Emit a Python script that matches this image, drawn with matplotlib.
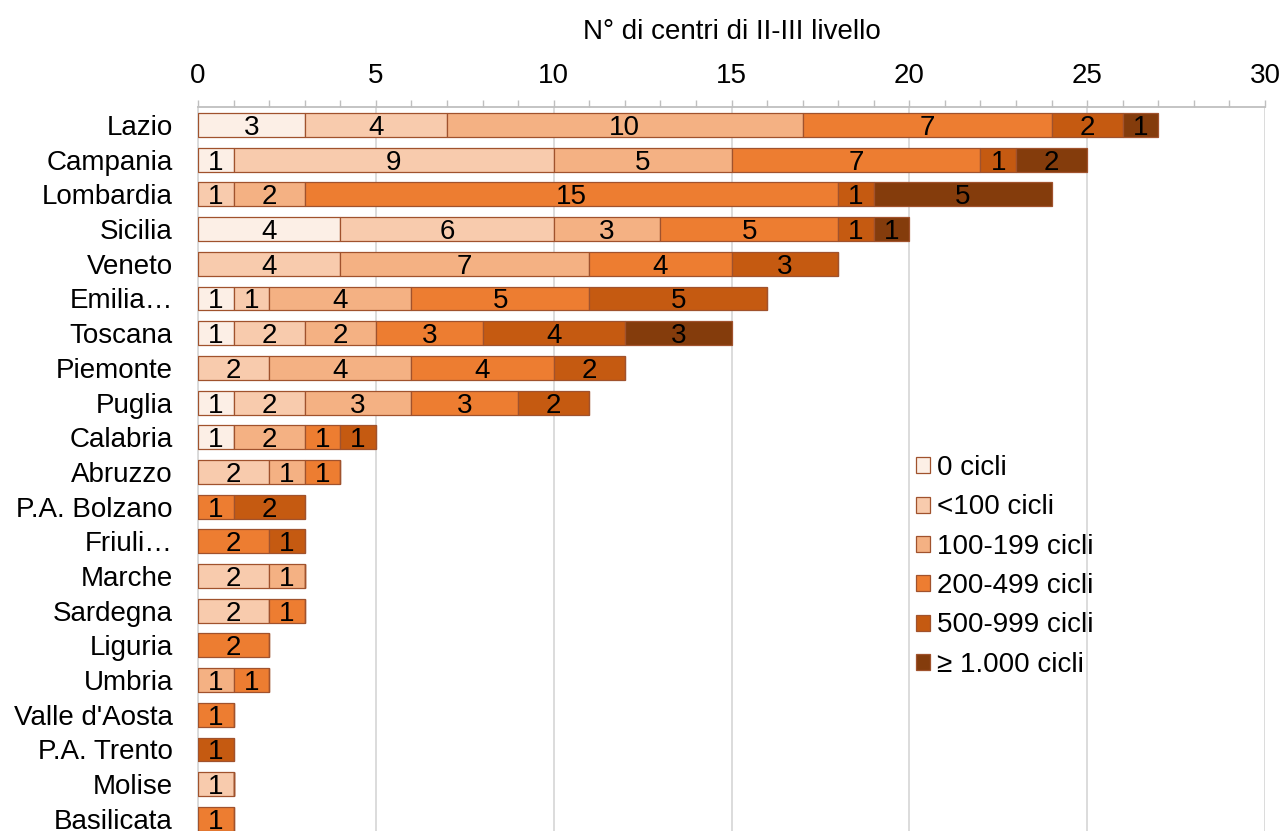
import matplotlib
matplotlib.use("Agg")
import matplotlib.pyplot as plt
import numpy as np
from matplotlib.ticker import MultipleLocator

plt.rcParams['font.family'] = ['Liberation Sans', 'DejaVu Sans']

regions = ["Lazio", "Campania", "Lombardia", "Sicilia", "Veneto", "Emilia\u2026",
           "Toscana", "Piemonte", "Puglia", "Calabria", "Abruzzo", "P.A. Bolzano",
           "Friuli\u2026", "Marche", "Sardegna", "Liguria", "Umbria", "Valle d'Aosta",
           "P.A. Trento", "Molise", "Basilicata"]

series_names = ["0 cicli", "<100 cicli", "100-199 cicli", "200-499 cicli",
                "500-999 cicli", "\u2265 1.000 cicli"]

c0     = [3, 1, 0, 4, 0, 1, 1, 0, 1, 1, 0, 0, 0, 0, 0, 0, 0, 0, 0, 0, 0]
c100   = [4, 9, 1, 6, 4, 1, 2, 2, 2, 0, 2, 0, 0, 2, 2, 0, 0, 0, 0, 1, 0]
c199   = [10, 5, 2, 3, 7, 4, 2, 4, 3, 2, 1, 0, 0, 1, 0, 0, 1, 0, 0, 0, 0]
c499   = [7, 7, 15, 5, 4, 5, 3, 4, 3, 1, 1, 1, 2, 0, 1, 2, 1, 1, 0, 0, 1]
c999   = [2, 1, 1, 1, 3, 5, 4, 2, 2, 1, 0, 2, 1, 0, 0, 0, 0, 0, 1, 0, 0]
c1000  = [1, 2, 5, 1, 0, 0, 3, 0, 0, 0, 0, 0, 0, 0, 0, 0, 0, 0, 0, 0, 0]

colors = ["#FCEFE6", "#F8CBAD", "#F4B183", "#ED7D31", "#C55A11", "#843C0C"]
edge = "#A0522D"
FS = 20

fig = plt.figure(figsize=(12.84, 8.31), dpi=100)
ax = fig.add_axes([198/1284, 0, (1265-198)/1284, (831-107)/831])

y = np.arange(len(regions))
left = np.zeros(len(regions))
for name, vals, col in zip(series_names, [c0, c100, c199, c499, c999, c1000], colors):
    vals = np.array(vals, dtype=float)
    bars = ax.barh(y, vals, left=left, height=0.69, color=col, edgecolor=edge,
                   linewidth=0.9, label=name, zorder=3)
    for b, v in zip(bars, vals):
        if v > 0:
            ax.text(b.get_x() + b.get_width() / 2, b.get_y() + b.get_height() / 2,
                    str(int(v)), ha='center', va='center_baseline',
                    fontsize=FS, color='black', zorder=4)
    left += vals

ax.set_xlim(0, 30)
ax.set_ylim(len(regions) - 1 + 0.35, -0.52)
ax.xaxis.set_major_locator(MultipleLocator(5))
ax.xaxis.set_minor_locator(MultipleLocator(1))
ax.xaxis.tick_top()
ax.xaxis.set_label_position('top')
ax.tick_params(axis='x', which='both', direction='out', length=5, width=1,
               color='#BFBFBF', labelsize=FS, pad=8)
ax.tick_params(axis='y', which='both', length=0, labelsize=FS, pad=18)
ax.set_yticks(y)
ax.set_yticklabels(regions)
ax.set_xlabel("N\u00b0 di centri di II-III livello", fontsize=FS, labelpad=17.5)
ax.grid(axis='x', which='major', color='#D9D9D9', linewidth=1.3, zorder=0)
for s in ['right', 'bottom']:
    ax.spines[s].set_visible(False)
ax.spines['top'].set_color('#BFBFBF')
ax.spines['top'].set_linewidth(1.3)
ax.spines['left'].set_color('#D9D9D9')
ax.spines['left'].set_linewidth(1.3)

leg = ax.legend(loc='upper left', bbox_to_anchor=((905-198)/1067, (831-444)/724),
                frameon=False, fontsize=FS, handlelength=0.5, handleheight=0.5,
                handletextpad=0.25, labelspacing=0.48, borderaxespad=0)

fig.savefig("out.png", dpi=100)
